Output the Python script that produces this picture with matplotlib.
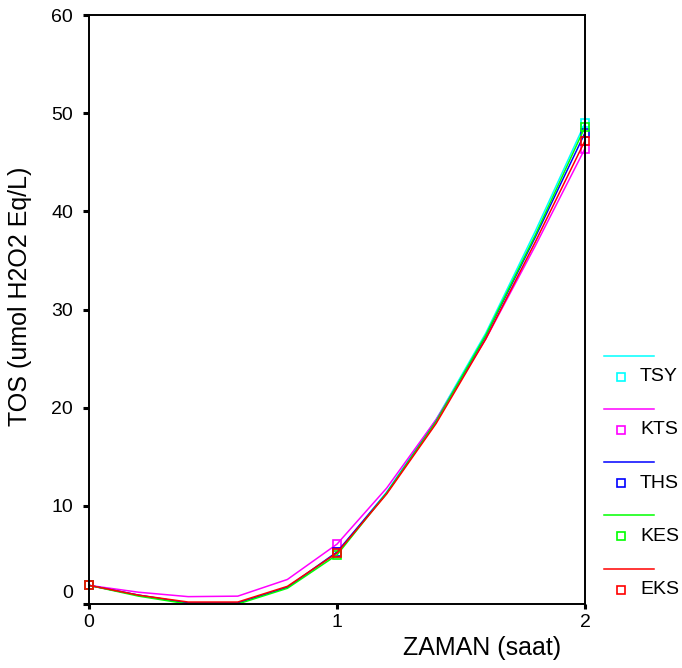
import matplotlib
matplotlib.use("Agg")
import matplotlib.pyplot as plt
from matplotlib.lines import Line2D
from matplotlib.transforms import ScaledTranslation

plt.rcParams['font.family'] = ['Liberation Sans', 'DejaVu Sans']

# zaman (saat)
zaman = [0, 0.2, 0.4, 0.6, 0.8, 1.0, 1.2, 1.4, 1.6, 1.8, 2.0]
marker_idx = [0, 5, 10]  # measured points at 0, 1, 2 saat

tsy = [1.9, 0.9, 0.1, 0.1, 1.7, 5.2, 11.4, 18.8, 27.6, 38.0, 49.0]
kts = [1.9, 1.2, 0.75, 0.8, 2.5, 6.1, 11.8, 18.8, 27.0, 36.5, 46.4]
ths = [1.9, 0.9, 0.1, 0.1, 1.7, 5.3, 11.3, 18.6, 27.3, 37.4, 48.0]
kes = [1.9, 0.8, 0.0, 0.0, 1.6, 5.0, 11.3, 18.6, 27.4, 37.6, 48.6]
eks = [1.9, 0.9, 0.2, 0.2, 1.8, 5.2, 11.2, 18.4, 27.0, 36.9, 47.2]

names = ['TSY', 'KTS', 'THS', 'KES', 'EKS']
series = [tsy, kts, ths, kes, eks]
colors = ['#00ffff', '#ff00ff', '#0000ff', '#00ff00', '#ff0000']

fig = plt.figure(figsize=(6.82, 6.68), dpi=100)
ax = fig.add_axes([89 / 682, 1 - 604 / 668, (585 - 89) / 682, (604 - 15) / 668])

for vals, c in zip(series, colors):
    ax.plot(zaman, vals, color=c, lw=1.1, marker='s', markevery=marker_idx,
            markersize=6, markerfacecolor='none', markeredgecolor=c,
            markeredgewidth=1.2, clip_on=False)

ax.set_xlim(0, 2)
ax.set_ylim(0, 60)
ax.set_xticks([0, 1, 2])
ax.set_yticks(range(0, 61, 10))
ax.tick_params(axis='y', direction='out', length=4, width=2.2, labelsize=14, pad=7.5)
ax.tick_params(axis='x', direction='out', length=3.5, width=2.2, labelsize=14, pad=4)
for s in ax.spines.values():
    s.set_linewidth(1.4)

# raise the 0 label on the y axis like the original
fig.canvas.draw()
lab0 = ax.get_yticklabels()[0]
lab0.set_transform(lab0.get_transform() + ScaledTranslation(0, 12 / 100, fig.dpi_scale_trans))

fig.text(20 / 682, 1 - 296 / 668, 'TOS (umol H2O2 Eq/L)', fontsize=18,
         rotation=90, ha='center', va='center')
fig.text(482 / 682, 1 - 648 / 668, 'ZAMAN (saat)', fontsize=18, ha='center', va='center')

# legend: line sample above, marker + name below
for i, (n, c) in enumerate(zip(names, colors)):
    yl = 1 - (355.7 + i * 53.2) / 668
    ym = 1 - (376.7 + i * 53.2) / 668
    fig.add_artist(Line2D([604 / 682, 654 / 682], [yl, yl], color=c, lw=1.1,
                          transform=fig.transFigure))
    fig.add_artist(Line2D([620.7 / 682], [ym], marker='s', markersize=6,
                          markerfacecolor='none', markeredgecolor=c,
                          markeredgewidth=1.2, transform=fig.transFigure))
    fig.text(640 / 682, ym, n, fontsize=14, ha='left', va='center')

fig.savefig('out.png', dpi=100)
